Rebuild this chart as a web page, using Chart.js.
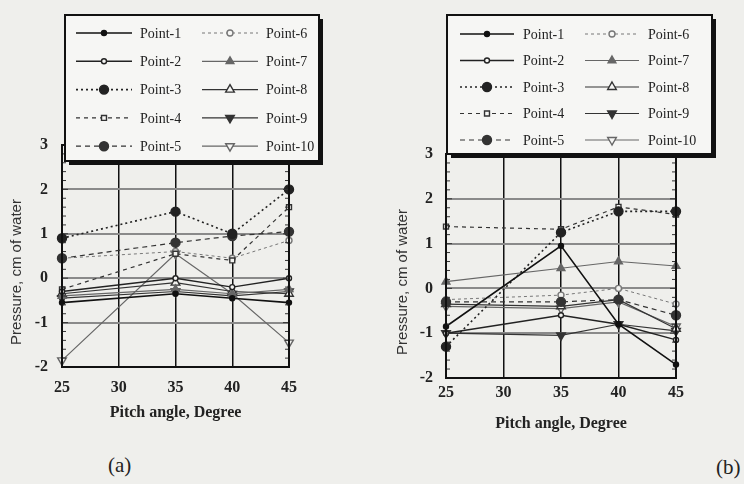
<!DOCTYPE html>
<html>
<head>
<meta charset="utf-8">
<script src="https://cdn.jsdelivr.net/npm/chart.js@4.4.0/dist/chart.umd.min.js"></script>
<style>
    html, body {
        margin: 0;
        padding: 0;
        width: 744px;
        height: 484px;
        background: #efefec;
        overflow: hidden;
        font-family: "Liberation Serif", serif;
    }
    .panel {
        position: absolute;
        top: 0;
    }
    .caption {
        position: absolute;
        font-size: 21px;
        color: #222;
    }
</style>
</head>
<body>
<div class="panel" style="left:0;width:340px;height:440px"><canvas id="chartA"></canvas></div>
<div class="panel" style="left:380px;width:340px;height:450px"><canvas id="chartB"></canvas></div>
<div class="caption" style="left:108px;top:453px">(a)</div>
<div class="caption" style="left:716px;top:455px">(b)</div>

<script>
const angles = [25, 35, 40, 45];
const xTicks = [25, 30, 35, 40, 45];
const yTicks = [-2, -1, 0, 1, 2, 3];
const seriesNames = ["Point-1", "Point-2", "Point-3", "Point-4", "Point-5",
    "Point-6", "Point-7", "Point-8", "Point-9", "Point-10"];

// panel (a)
const a1 = [-0.55, -0.35, -0.45, -0.55];
const a2 = [-0.3, 0.0, -0.2, 0.0];
const a3 = [0.9, 1.5, 1.0, 2.0];
const a4 = [-0.25, 0.55, 0.4, 1.6];
const a5 = [0.45, 0.8, 0.95, 1.05];
const a6 = [0.45, 0.6, 0.45, 0.85];
const a7 = [-0.4, -0.25, -0.35, -0.25];
const a8 = [-0.35, -0.1, -0.3, -0.35];
const a9 = [-0.45, -0.3, -0.4, -0.3];
const a10 = [-1.85, 0.55, -0.35, -1.45];

// panel (b)
const b1 = [-0.85, 0.95, -0.8, -1.7];
const b2 = [-1.0, -0.6, -0.8, -1.15];
const b3 = [-1.3, 1.25, 1.72, 1.72];
const b4 = [1.38, 1.32, 1.82, 1.65];
const b5 = [-0.3, -0.3, -0.25, -0.6];
const b6 = [-0.25, -0.15, 0.0, -0.35];
const b7 = [0.15, 0.45, 0.6, 0.5];
const b8 = [-0.35, -0.4, -0.25, -0.9];
const b9 = [-1.0, -1.05, -0.8, -0.95];
const b10 = [-0.4, -0.45, -0.3, -0.85];

const paper = "#f3f3f0";

const looks = [
    {color: "#111", width: 1.6, dash: [], style: "circle", r: 2.5, fill: true, rot: 0},
    {color: "#222", width: 1.4, dash: [], style: "circle", r: 2.5, fill: false, rot: 0},
    {color: "#222", width: 1.6, dash: [2, 3], style: "circle", r: 4.5, fill: true, rot: 0},
    {color: "#333", width: 1.2, dash: [4, 4], style: "rect", r: 3.5, fill: false, rot: 0},
    {color: "#333", width: 1.2, dash: [5, 4], style: "circle", r: 4.5, fill: true, rot: 0},
    {color: "#777", width: 1.0, dash: [3, 3], style: "circle", r: 3, fill: false, rot: 0},
    {color: "#666", width: 1.2, dash: [], style: "triangle", r: 4.5, fill: true, rot: 0},
    {color: "#333", width: 1.2, dash: [], style: "triangle", r: 5, fill: false, rot: 0},
    {color: "#333", width: 1.2, dash: [], style: "triangle", r: 5, fill: true, rot: 180},
    {color: "#666", width: 1.2, dash: [], style: "triangle", r: 5, fill: false, rot: 180}
];

function buildSets(values) {
    return values.map((v, i) => {
        let look = looks[i];
        return {
            label: seriesNames[i],
            data: angles.map((x, j) => ({x: x, y: v[j]})),
            borderColor: look.color,
            borderWidth: look.width,
            borderDash: look.dash,
            pointStyle: look.style,
            pointRotation: look.rot,
            pointRadius: look.r,
            pointBorderWidth: 1.4,
            pointBorderColor: look.color,
            pointBackgroundColor: look.fill ? look.color : paper,
            clip: false,
            tension: 0
        };
    });
}

const framePlugin = {
    id: "frame",
    afterDraw: function (chart, args, opts) {
        const ctx = chart.ctx;
        const area = chart.chartArea;
        const yScale = chart.scales.y;

        ctx.save();
        // minor ticks on both sides
        ctx.strokeStyle = "#333";
        ctx.lineWidth = 1;
        for (let i = 0; i <= 25; i++) {
            let y = yScale.getPixelForValue(yTicks[0] + i * 0.2);
            ctx.beginPath();
            ctx.moveTo(area.left, y);
            ctx.lineTo(area.left + (i % 5 == 0 ? 6 : 4), y);
            ctx.moveTo(area.right, y);
            ctx.lineTo(area.right - (i % 5 == 0 ? 6 : 4), y);
            ctx.stroke();
        }
        // plot frame
        ctx.strokeStyle = "#111";
        ctx.lineWidth = 2;
        ctx.strokeRect(area.left, area.top, area.right - area.left, area.bottom - area.top);

        // y title, sitting a bit below the middle as in the scan
        ctx.translate(opts.yTitle.x, opts.yTitle.y);
        ctx.rotate(-Math.PI / 2);
        ctx.fillStyle = "#333";
        ctx.font = "15px 'Liberation Sans'";
        ctx.textAlign = "center";
        ctx.textBaseline = "middle";
        ctx.fillText("Pressure, cm of water", 0, 0);
        ctx.setTransform(1, 0, 0, 1, 0, 0);
        ctx.scale(chart.currentDevicePixelRatio, chart.currentDevicePixelRatio);

        // legend box
        const L = opts.box;
        ctx.fillStyle = "#111";
        ctx.fillRect(L.x + 4, L.y + 4, L.w, L.h);
        ctx.fillStyle = "#f6f6f4";
        ctx.fillRect(L.x, L.y, L.w, L.h);
        ctx.lineWidth = 2;
        ctx.strokeRect(L.x, L.y, L.w, L.h);

        ctx.font = "14px 'Liberation Serif'";
        ctx.textBaseline = "middle";
        ctx.textAlign = "left";
        chart.data.datasets.forEach((ds, i) => {
            let col = i < 5 ? 0 : 1;
            let row = i % 5;
            let x0 = L.x + L.cols[col];
            let y0 = L.y + L.rowTop + row * L.rowGap;
            let look = looks[i];

            ctx.strokeStyle = look.color;
            ctx.lineWidth = look.width;
            ctx.setLineDash(look.dash);
            ctx.beginPath();
            ctx.moveTo(x0, y0);
            ctx.lineTo(x0 + L.lineLen, y0);
            ctx.stroke();
            ctx.setLineDash([]);

            ctx.fillStyle = look.fill ? look.color : "#f6f6f4";
            ctx.lineWidth = 1.4;
            Chart.helpers.drawPoint(ctx, {
                pointStyle: look.style,
                radius: look.r,
                rotation: look.rot,
                borderWidth: 1.4
            }, x0 + L.lineLen / 2, y0);

            ctx.fillStyle = "#222";
            ctx.fillText(ds.label, x0 + L.lineLen + L.textGap, y0 + 1);
        });
        ctx.restore();
    }
};

function makeChart(id, values, lay) {
    let ctx = document.getElementById(id).getContext("2d");

    return new Chart(ctx, {
        type: "line",
        data: {datasets: buildSets(values)},
        options: {
            responsive: true,
            maintainAspectRatio: false,
            animation: false,
            layout: {
                padding: {top: lay.top, right: lay.right, left: 0, bottom: 0}
            },
            scales: {
                x: {
                    type: "linear",
                    min: xTicks[0],
                    max: xTicks[xTicks.length - 1],
                    afterBuildTicks: (scale) => {
                        scale.ticks = xTicks.map(v => ({value: v}));
                    },
                    afterFit: (scale) => {
                        scale.height = lay.xHeight;
                    },
                    border: {display: false},
                    grid: {
                        drawTicks: false,
                        color: "#111",
                        lineWidth: 1.5
                    },
                    ticks: {
                        padding: lay.xTickPad,
                        color: "#222",
                        font: {family: "'Liberation Serif'", size: 16, weight: "bold"}
                    },
                    title: {
                        display: true,
                        text: "Pitch angle, Degree",
                        color: "#222",
                        padding: {top: 0, bottom: lay.xTitlePad},
                        font: {family: "'Liberation Serif'", size: 16, weight: "bold"}
                    }
                },
                y: {
                    min: yTicks[0],
                    max: yTicks[yTicks.length - 1],
                    afterBuildTicks: (scale) => {
                        scale.ticks = yTicks.map(v => ({value: v}));
                    },
                    afterFit: (scale) => {
                        scale.width = lay.yWidth;
                    },
                    border: {display: false},
                    grid: {
                        drawTicks: false,
                        color: "#8a8a8a",
                        lineWidth: 2
                    },
                    ticks: {
                        padding: lay.yTickPad,
                        color: "#222",
                        font: {family: "'Liberation Serif'", size: 16, weight: "bold"}
                    }
                }
            },
            plugins: {
                legend: {display: false},
                tooltip: {enabled: false},
                frame: {box: lay.box, yTitle: lay.yTitle}
            }
        },
        plugins: [framePlugin]
    });
}

makeChart("chartA", [a1, a2, a3, a4, a5, a6, a7, a8, a9, a10], {
    top: 145, right: 51, xHeight: 73, yWidth: 62,
    xTickPad: 11, xTitlePad: 18, yTickPad: 14,
    yTitle: {x: 17, y: 272},
    box: {x: 65, y: 15, w: 254, h: 146, rowTop: 18, rowGap: 28.3,
        cols: [11, 137], lineLen: 56, textGap: 8}
});

makeChart("chartB", [b1, b2, b3, b4, b5, b6, b7, b8, b9, b10], {
    top: 154, right: 44, xHeight: 72, yWidth: 66,
    xTickPad: 5, xTitlePad: 17, yTickPad: 13,
    yTitle: {x: 23, y: 282},
    box: {x: 67, y: 15, w: 265, h: 139, rowTop: 19, rowGap: 26.5,
        cols: [13, 138], lineLen: 54, textGap: 9}
});
</script>
</body>
</html>
